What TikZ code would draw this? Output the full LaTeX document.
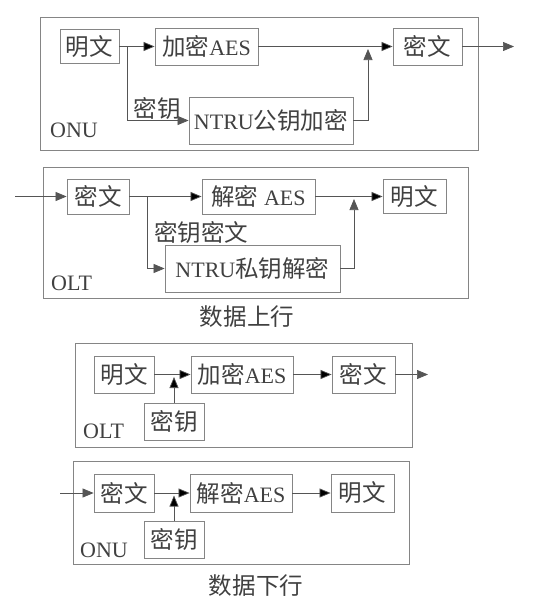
\documentclass[tikz,border=0pt]{standalone}
\usepackage{fontspec}
\setmainfont{Liberation Serif}
\newfontfamily\cjk[Scale=1.07]{Noto Sans CJK SC}
\usepackage{tikz}
\usetikzlibrary{positioning,arrows.meta}
\usepackage{xcolor}
\definecolor{boxgray}{HTML}{858585}
\definecolor{linegray}{HTML}{555555}
\definecolor{textgray}{HTML}{404040}
\tikzset{
  blk/.style={shape=rectangle, draw=boxgray, line width=0.8pt, inner sep=0pt, minimum height=36pt, text=textgray, font=\fontsize{22}{25}\selectfont},
  frm/.style={shape=rectangle, draw=boxgray, line width=0.8pt, inner sep=0pt},
  lbl/.style={text=textgray, inner sep=0pt, font=\fontsize{22}{25}\selectfont},
  arr/.style={draw=linegray, line width=0.7pt, -{Triangle[length=11pt,width=9pt]}},
}

\begin{document}
\begin{tikzpicture}[x=1pt,y=-1pt]
		\useasboundingbox (0,0) rectangle (533,608);
		
		% data up: ONU
		\node[frm, minimum width=438pt, minimum height=133pt] (onuA) at (259, 83.5) {};
		\node[blk, minimum width=59pt, minimum height=34pt] (m1) at (89.5, 46.5) {{\cjk 明文}};
		\node[blk, minimum width=103pt, minimum height=37pt] (aes1) at (206.5, 46.5) {{\cjk 加密}AES};
		\node[blk, minimum width=69pt, minimum height=37pt] (c1) at (427.5, 46.5) {{\cjk 密文}};
		\node[blk, minimum width=164pt, minimum height=47pt] (ntru1) at (271, 120.5) {NTRU{\cjk 公钥加密}};
		\node[lbl, anchor=west] (onu1) at (50, 130) {ONU};
		\node[lbl] (key1) at (157, 108) {{\cjk 密钥}};
		\coordinate (b1) at (127, 46.5);
		\coordinate (j1) at (368, 49);
		\coordinate (out1) at (514, 46.5);
		
		\path[arr] (m1) edge (aes1);
		\path[arr] (aes1) edge (c1);
		\draw[arr] (c1) -- (out1);
		\draw[arr] (b1) |- (ntru1);
		\draw[arr] (ntru1) -| (j1);
		
		% data up: OLT
		\node[frm, minimum width=425pt, minimum height=131pt] (oltA) at (255.5, 232.5) {};
		\node[blk, minimum width=62pt, minimum height=35pt] (c2) at (98, 196.5) {{\cjk 密文}};
		\node[blk, minimum width=113pt, minimum height=35pt] (aes2) at (258.5, 196.5) {{\cjk 解密} AES};
		\node[blk, minimum width=63pt, minimum height=34pt] (m2) at (414.5, 196.5) {{\cjk 明文}};
		\node[blk, minimum width=175pt, minimum height=47pt] (ntru2) at (252.5, 268.5) {NTRU{\cjk 私钥解密}};
		\node[lbl, anchor=west] (olt2) at (51, 283) {OLT};
		\node[lbl, anchor=west] (key2) at (154, 232) {{\cjk 密钥密文}};
		\node[lbl] (up) at (247, 317) {{\cjk 数据上行}};
		\coordinate (in2) at (15, 196.5);
		\coordinate (b2) at (147, 196.5);
		\coordinate (j2) at (354, 199);
		
		\draw[arr] (in2) -- (c2);
		\path[arr] (c2) edge (aes2);
		\path[arr] (aes2) edge (m2);
		\draw[arr] (b2) |- (ntru2);
		\draw[arr] (ntru2) -| (j2);
		
		% data down: OLT
		\node[frm, minimum width=337pt, minimum height=104pt] (oltB) at (243.5, 395) {};
		\node[blk, minimum width=60pt, minimum height=37pt] (m3) at (124, 374.5) {{\cjk 明文}};
		\node[blk, minimum width=102pt, minimum height=37pt] (aes3) at (242, 374.5) {{\cjk 加密}AES};
		\node[blk, minimum width=63pt, minimum height=37pt] (c3) at (363.5, 374.5) {{\cjk 密文}};
		\node[blk, minimum width=60pt, minimum height=37pt] (k3) at (174, 421.5) {{\cjk 密钥}};
		\node[lbl, anchor=west] (olt3) at (83, 431) {OLT};
		\coordinate (j3) at (174, 377);
		\coordinate (out3) at (428, 374.5);
		
		\path[arr] (m3) edge (aes3);
		\path[arr] (aes3) edge (c3);
		\draw[arr] (c3) -- (out3);
		\path[arr] (k3) edge (j3);
		
		% data down: ONU
		\node[frm, minimum width=336pt, minimum height=103pt] (onuB) at (241, 512.5) {};
		\node[blk, minimum width=60pt, minimum height=38pt] (c4) at (124, 493) {{\cjk 密文}};
		\node[blk, minimum width=102pt, minimum height=38pt] (aes4) at (241, 493) {{\cjk 解密}AES};
		\node[blk, minimum width=63pt, minimum height=38pt] (m4) at (362.5, 493) {{\cjk 明文}};
		\node[blk, minimum width=60pt, minimum height=37pt] (k4) at (174, 539.5) {{\cjk 密钥}};
		\node[lbl, anchor=west] (onu4) at (80, 550) {ONU};
		\node[lbl] (down) at (256, 586) {{\cjk 数据下行}};
		\coordinate (in4) at (60, 493);
		\coordinate (j4) at (174, 495.5);
		
		\draw[arr] (in4) -- (c4);
		\path[arr] (c4) edge (aes4);
		\path[arr] (aes4) edge (m4);
		\path[arr] (k4) edge (j4);
\end{tikzpicture}
\end{document}
